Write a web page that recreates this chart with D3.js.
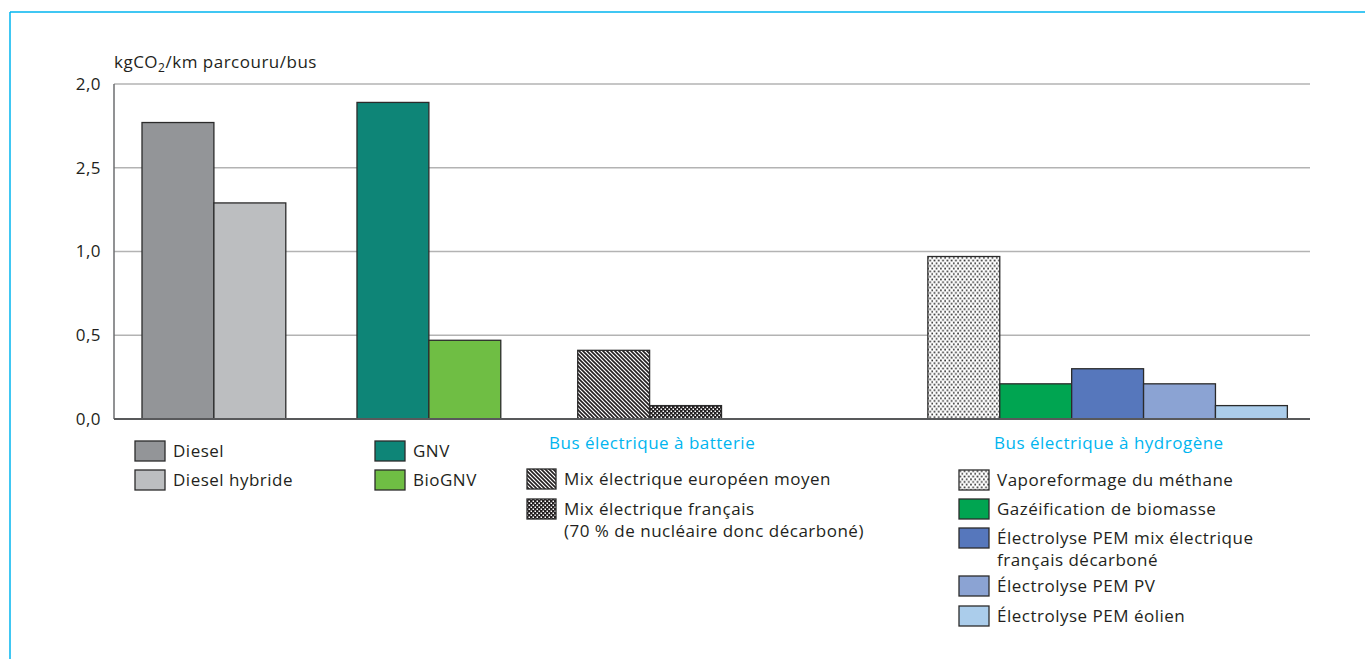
<!DOCTYPE html>
<html><head><meta charset="utf-8">
<script src="https://cdn.jsdelivr.net/npm/d3@7"></script>
<style>body{margin:0;background:#fff}svg{display:block}text{font-family:"Open Sans",sans-serif;fill:#231f20;letter-spacing:0.5px}</style>
</head><body>
<svg id="c" width="1365" height="659"></svg>
<script>
// ---- data ----
const categories = ["Diesel","Diesel hybride","GNV","BioGNV","Mix électrique européen moyen","Mix électrique français","Vaporeformage du méthane","Gazéification de biomasse","Électrolyse PEM mix électrique français décarboné","Électrolyse PEM PV","Électrolyse PEM éolien"];
const groups = ["g1","g1","g2","g2","g3","g3","g4","g4","g4","g4","g4"];
const values = [1.77,1.29,1.89,0.47,0.41,0.08,0.97,0.21,0.30,0.21,0.08];
const tickValues = [0,0.5,1.0,1.5,2.0];
const tickLabels = ["0,0","0,5","1,0","2,5","2,0"];
const groupTitles = ["Bus électrique à batterie","Bus électrique à hydrogène"];
const legendLabels = [["Diesel"],["Diesel hybride"],["GNV"],["BioGNV"],["Mix électrique européen moyen"],["Mix électrique français","(70 % de nucléaire donc décarboné)"],["Vaporeformage du méthane"],["Gazéification de biomasse"],["Électrolyse PEM mix électrique","français décarboné"],["Électrolyse PEM PV"],["Électrolyse PEM éolien"]];

// ---- styles ----
const fills = ["#939598","#bcbec0","#0e8577","#6fbe44","url(#diag)","url(#check)","url(#dots)","#00a551","#5677bc","#8ba3d3","#abcdeb"];
const cyan = "#00b5ef";
const FS = "17px";

const svg = d3.select("#c");
const defs = svg.append("defs");
const pd = defs.append("pattern").attr("id","diag").attr("patternUnits","userSpaceOnUse").attr("width",4).attr("height",4);
pd.append("rect").attr("width",4).attr("height",4).attr("fill","#fff");
pd.append("path").attr("d","M-1,-1 L5,5 M-1,3 L1,5 M3,-1 L5,1").attr("stroke","#231f20").attr("stroke-width",1.6);
const pc = defs.append("pattern").attr("id","check").attr("patternUnits","userSpaceOnUse").attr("width",4).attr("height",4);
pc.append("rect").attr("width",4).attr("height",4).attr("fill","#231f20");
pc.append("rect").attr("x",0.5).attr("y",0.5).attr("width",1.5).attr("height",1.5).attr("fill","#fff");
pc.append("rect").attr("x",2.5).attr("y",2.5).attr("width",1.5).attr("height",1.5).attr("fill","#fff");
const pt = defs.append("pattern").attr("id","dots").attr("patternUnits","userSpaceOnUse").attr("width",4.3).attr("height",5.4);
pt.append("rect").attr("width",4.3).attr("height",5.4).attr("fill","#fff");
pt.append("rect").attr("x",0.5).attr("y",0.5).attr("width",1.7).attr("height",1.7).attr("fill","#333");
pt.append("rect").attr("x",2.65).attr("y",3.2).attr("width",1.7).attr("height",1.7).attr("fill","#333");

// frame
svg.append("line").attr("x1",10).attr("x2",1365).attr("y1",12).attr("y2",12).attr("stroke",cyan).attr("stroke-width",1.5);
svg.append("line").attr("x1",10).attr("x2",10).attr("y1",12).attr("y2",659).attr("stroke",cyan).attr("stroke-width",1.5);

// scales
const plotL = 114, plotR = 1310, plotT = 84, plotB = 419;
const y = d3.scaleLinear().domain([0,2]).range([plotB,plotT]);
const gapAfter = {g1:0.99,g2:1.07,g3:2.87};
const slots = []; let s = 0;
categories.forEach((c,i)=>{ if(i>0 && groups[i]!==groups[i-1]) s += gapAfter[groups[i-1]]; slots.push(s); s += 1; });
const x = d3.scaleLinear().domain([0, s]).range([142, 142 + s*71.9]);
const bw = x(1)-x(0);

// grid
svg.append("g").selectAll("line").data(tickValues.slice(1)).join("line")
  .attr("x1",plotL).attr("x2",plotR).attr("y1",d=>y(d)).attr("y2",d=>y(d))
  .attr("stroke","#b3b3b3").attr("stroke-width",1.5);

// y axis labels
const yAxis = d3.axisLeft(y).tickValues(tickValues).tickFormat((d,i)=>tickLabels[i]).tickSize(0).tickPadding(13);
const ga = svg.append("g").attr("transform",`translate(${plotL},0)`).call(yAxis);
ga.select(".domain").remove();
ga.selectAll("text").style("font-family",'"Open Sans",sans-serif').style("font-size",FS).attr("fill","#231f20");

// bars
svg.append("g").selectAll("rect").data(values).join("rect")
  .attr("x",(d,i)=>x(slots[i])).attr("width",bw)
  .attr("y",d=>y(d)).attr("height",d=>y(0)-y(d))
  .attr("fill",(d,i)=>fills[i]).attr("stroke","#2b2b2b").attr("stroke-width",1.3);

// axes lines
svg.append("line").attr("x1",plotL).attr("x2",plotL).attr("y1",plotT).attr("y2",plotB).attr("stroke","#6d6e70").attr("stroke-width",1.5);
svg.append("line").attr("x1",plotL).attr("x2",plotR).attr("y1",plotB).attr("y2",plotB).attr("stroke","#58595b").attr("stroke-width",1.8);

// y title
const yt = svg.append("text").attr("x",114).attr("y",68).style("font-size",FS);
yt.append("tspan").text("kgCO");
yt.append("tspan").text("2").attr("dy",4).style("font-size","12px");
yt.append("tspan").text("/km parcouru/bus").attr("dy",-4);

// legend
const legendPos = [[135,441],[135,470],[375,441],[375,470],[527,469],[527,499],[959,470],[959,499],[959,528],[959,576],[959,606]];
const lg = svg.append("g");
legendLabels.forEach((lab,i)=>{
  const [lx,ly] = legendPos[i];
  const sw = (i>=4&&i<=5)?29:30;
  lg.append("rect").attr("x",lx).attr("y",ly).attr("width",sw).attr("height",20)
    .attr("fill",fills[i]).attr("stroke","#2b2b2b").attr("stroke-width",1.3);
  lab.forEach((t,j)=>{
    lg.append("text").attr("x",lx+sw+8).attr("y",ly+16+j*22).style("font-size",FS).text(t);
  });
});
svg.append("text").attr("x",549).attr("y",449).style("font-size",FS).style("fill",cyan).text(groupTitles[0]);
svg.append("text").attr("x",994).attr("y",449).style("font-size",FS).style("fill",cyan).text(groupTitles[1]);
</script>
</body></html>
